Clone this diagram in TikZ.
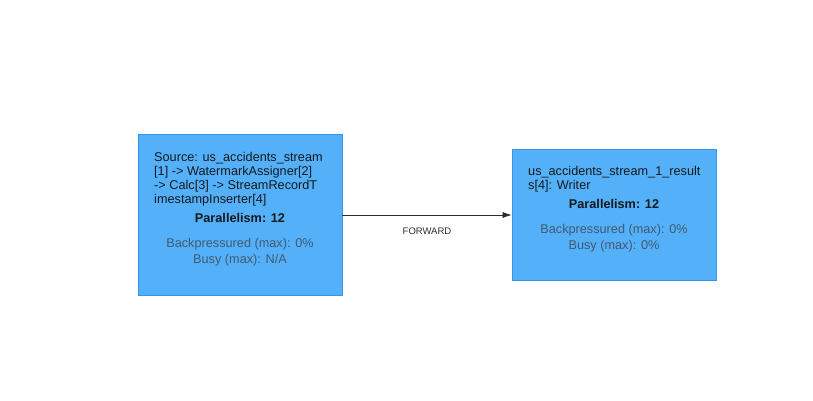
\documentclass[tikz,border=0pt]{standalone}
\usepackage{fontspec}
\setmainfont{Liberation Sans}
\usetikzlibrary{arrows.meta}
\definecolor{boxfill}{RGB}{84,176,249}
\definecolor{boxline}{RGB}{52,150,240}
\definecolor{titletext}{RGB}{20,25,30}
\definecolor{metrictext}{RGB}{65,90,115}
\definecolor{edgeline}{RGB}{45,45,45}
\tikzset{
  opbox/.style={draw=boxline, line width=0.8pt, fill=boxfill, inner sep=0pt},
  titlelines/.style={anchor=north west, inner sep=0pt, align=left, text=titletext, font=\fontsize{12.7}{14}\selectfont},
  paral/.style={inner sep=0pt, text=titletext, font=\fontsize{12.7}{14}\selectfont\bfseries},
  metrics/.style={inner sep=0pt, align=center, text=metrictext, font=\fontsize{12.7}{16}\selectfont},
  edgelabel/.style={inner sep=0pt, text=edgeline, font=\fontsize{9.5}{11}\selectfont},
}
\begin{document}
\begin{tikzpicture}[x=1pt,y=-1pt]
\useasboundingbox (0,0) rectangle (813,400);
% boxes
\node[opbox, minimum width=204pt, minimum height=161pt] (src) at (240,214.5) {};
\node[opbox, minimum width=204pt, minimum height=131pt] (snk) at (614,214.5) {};
% source text
\node[titlelines] (srct) at (154,152.5) {Source: us\_accidents\_stream\\{}[1] -> WatermarkAssigner[2]\\-> Calc[3] -> StreamRecordT\\imestampInserter[4]};
\node[paral] (srcp) at (240,217.5) {Parallelism: 12};
\node[metrics] (srcm) at (240,252) {Backpressured (max): 0\%\\Busy (max): N/A};
% sink text
\node[titlelines] (snkt) at (528,166.5) {us\_accidents\_stream\_1\_result\\s[4]: Writer};
\node[paral] (snkp) at (614,203.5) {Parallelism: 12};
\node[metrics] (snkm) at (614,238) {Backpressured (max): 0\%\\Busy (max): 0\%};
% edge
\draw[edgeline, line width=0.6pt, -{Latex[length=9pt,width=6pt]}] (src.east |- 0,215) -- (snk.west |- 0,215) node[midway, below=12.5pt, edgelabel] (lbl) {FORWARD};
\end{tikzpicture}
\end{document}
